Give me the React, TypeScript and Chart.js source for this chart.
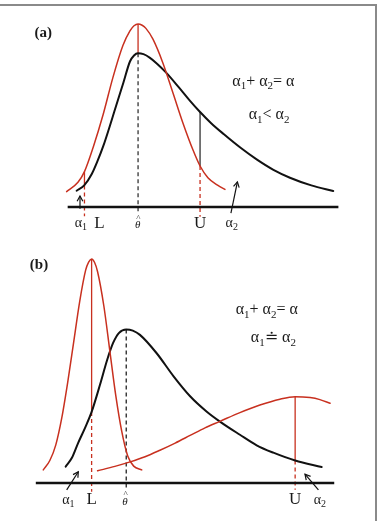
import React, { useEffect, useRef } from "react";
import { Chart, registerables } from "chart.js";
Chart.register(...registerables);

const RED = "#c8301f";
const BLACK = "#111111";
const SERIF = '"Liberation Serif", "Times New Roman", "DejaVu Serif", serif';

// ---------- Panel (a) ----------
const A_RED_X = [-0.04, 0.38, 0.62, 0.94, 1.31, 1.67, 2.04, 2.3, 2.45, 2.6, 2.75, 2.89, 3.15, 3.52, 3.89, 4.26, 4.63, 4.89, 5.18, 5.55, 5.81];
const A_RED_Y = [0.084, 0.135, 0.193, 0.325, 0.505, 0.707, 0.882, 0.962, 0.99, 1.0, 0.993, 0.976, 0.917, 0.786, 0.623, 0.458, 0.311, 0.224, 0.16, 0.118, 0.096];
const A_BLACK_X = [0.33, 0.61, 0.89, 1.1, 1.32, 1.52, 1.72, 1.9, 2.06, 2.3, 2.45, 2.6, 2.8, 3.04, 3.3, 3.62, 4.1, 4.52, 4.89, 5.3, 5.75, 6.4, 6.98, 7.6, 8.21, 9.0, 9.81];
const A_BLACK_Y = [0.089, 0.118, 0.18, 0.25, 0.335, 0.425, 0.52, 0.605, 0.68, 0.795, 0.828, 0.84, 0.835, 0.815, 0.783, 0.737, 0.655, 0.58, 0.519, 0.458, 0.4, 0.322, 0.26, 0.203, 0.16, 0.118, 0.087];
// guides at L, theta-hat, U
const A_GUIDE_X = [0.62, 2.6, 4.89];
const A_GUIDE_TOP = [0.193, 1.0, 0.519];
const A_GUIDE_MID = [0.118, 0.84, 0.224];
const A_GUIDE_BOTTOM = [-0.05, -0.035, -0.053];
const A_TICK_X = [0.49, 1.17, 2.59, 4.89, 6.06];
const A_TICK_TEXT = ["α_1", "L", "θ\u0302", "U", "α_2"];
const A_TICK_Y = -0.09;
const A_ARROW_FROM = [[0.455, -0.01], [6.03, -0.033]];
const A_ARROW_TO = [[0.455, 0.06], [6.27, 0.137]];
const A_NOTES = ["α_1+ α_2= α", "α_1< α_2"];
const A_NOTE_X = [7.23, 7.44];
const A_NOTE_Y = [0.685, 0.503];
const A_TITLE = "(a)";
const A_TITLE_POS = [-0.9, 0.951];

// ---------- Panel (b) ----------
const B_RED1_X = [0.25, 0.47, 0.67, 0.87, 1.07, 1.27, 1.47, 1.67, 1.77, 1.87, 1.97, 2.07, 2.28, 2.48, 2.68, 2.88, 3.08, 3.28, 3.55];
const B_RED1_Y = [0.058, 0.1, 0.17, 0.29, 0.45, 0.63, 0.81, 0.95, 0.986, 1.0, 0.984, 0.943, 0.79, 0.59, 0.39, 0.23, 0.12, 0.075, 0.058];
const B_BLACK_X = [1.0, 1.21, 1.42, 1.65, 1.87, 2.15, 2.39, 2.59, 2.79, 3.03, 3.25, 3.49, 4.05, 4.61, 5.17, 5.73, 6.17, 6.84, 7.4, 7.96, 8.69, 9.58];
const B_BLACK_Y = [0.073, 0.112, 0.179, 0.246, 0.317, 0.438, 0.549, 0.625, 0.67, 0.685, 0.68, 0.661, 0.579, 0.477, 0.387, 0.318, 0.274, 0.215, 0.168, 0.135, 0.1, 0.071];
const B_RED2_X = [2.07, 2.65, 3.16, 3.66, 4.16, 4.67, 5.17, 5.67, 6.17, 6.84, 7.51, 8.18, 8.69, 9.19, 9.52, 9.86];
const B_RED2_Y = [0.054, 0.074, 0.094, 0.117, 0.146, 0.178, 0.212, 0.246, 0.275, 0.314, 0.348, 0.374, 0.385, 0.381, 0.372, 0.356];
const B_GUIDE_X = [1.87, 3.03, 8.69];
const B_GUIDE_TOP = [1.0, 0.685, 0.385];
const B_GUIDE_MID = [0.317, 0.685, 0.1];
const B_GUIDE_BOTTOM = [-0.039, -0.03, -0.03];
const B_TICK_X = [1.09, 1.87, 2.99, 8.69, 9.52];
const B_TICK_TEXT = ["α_1", "L", "θ\u0302", "U", "α_2"];
const B_TICK_Y = -0.076;
const B_ARROW_FROM = [[1.035, -0.031], [9.47, -0.031]];
const B_ARROW_TO = [[1.424, 0.05], [9.02, 0.039]];
const B_NOTES = ["α_1+ α_2= α", "α_1≐ α_2"];
const B_NOTE_X = [7.74, 7.96];
const B_NOTE_Y = [0.772, 0.646];
const B_TITLE = "(b)";
const B_TITLE_POS = [0.107, 0.973];

const AXIS_X = [0, 10];

function curve(xs: number[], ys: number[], color: string, width: number) {
  return {
    data: xs.map((x, i) => ({ x, y: ys[i] })),
    borderColor: color,
    borderWidth: width,
    showLine: true,
    pointRadius: 0,
    cubicInterpolationMode: "monotone",
    borderCapStyle: "round",
    borderJoinStyle: "round",
    fill: false,
  };
}

function seg(x0: number, y0: number, x1: number, y1: number, color: string, width: number, dash?: number[]) {
  return {
    data: [{ x: x0, y: y0 }, { x: x1, y: y1 }],
    borderColor: color,
    borderWidth: width,
    showLine: true,
    pointRadius: 0,
    borderDash: dash || [],
    fill: false,
  };
}

function drawRich(ctx: CanvasRenderingContext2D, text: string, cx: number, cy: number, size: number, style = "") {
  const parts: { t: string; sub: boolean }[] = [];
  const re = /_(.)/g;
  let last = 0;
  let m: RegExpExecArray | null;
  while ((m = re.exec(text))) {
    if (m.index > last) parts.push({ t: text.slice(last, m.index), sub: false });
    parts.push({ t: m[1], sub: true });
    last = m.index + m[0].length;
  }
  if (last < text.length) parts.push({ t: text.slice(last), sub: false });
  const subSize = Math.round(size * 0.68);
  const fontFor = (sub: boolean) => `${style} ${sub ? subSize : size}px ${SERIF}`;
  let total = 0;
  for (const p of parts) {
    ctx.font = fontFor(p.sub);
    total += ctx.measureText(p.t).width;
  }
  let x = cx - total / 2;
  ctx.textAlign = "left";
  ctx.textBaseline = "middle";
  for (const p of parts) {
    ctx.font = fontFor(p.sub);
    ctx.fillText(p.t, x, p.sub ? cy + size * 0.3 : cy);
    x += ctx.measureText(p.t).width;
  }
}

function drawHat(ctx: CanvasRenderingContext2D, text: string, cx: number, cy: number, size: number) {
  const base = text.replace("\u0302", "");
  ctx.textAlign = "center";
  ctx.textBaseline = "middle";
  ctx.font = `italic ${size}px ${SERIF}`;
  ctx.fillText(base, cx, cy + 2);
  ctx.font = `${size - 2}px ${SERIF}`;
  ctx.fillText("^", cx + 0.5, cy - size * 0.45);
}

type Panel = {
  xMin: number; xMax: number; yMin: number; yMax: number;
  datasets: any[];
  arrowsFrom: number[][]; arrowsTo: number[][];
  ticksX: number[]; ticksText: string[]; tickY: number;
  notes: string[]; notesX: number[]; notesY: number[];
  title: string; titlePos: number[];
};

function guides(gx: number[], top: number[], mid: number[], bottom: number[], solidColors: string[], dashColors: string[]) {
  const out: any[] = [];
  gx.forEach((x, i) => {
    if (top[i] !== mid[i]) out.push(seg(x, top[i], x, mid[i], solidColors[i], 1.3));
    out.push(seg(x, mid[i], x, bottom[i], dashColors[i], 1.3, [4, 3]));
  });
  return out;
}

function arrowShafts(from: number[][], to: number[][]) {
  return from.map((f, i) => seg(f[0], f[1], to[i][0], to[i][1], BLACK, 1.2));
}

const panelA: Panel = {
  xMin: -2.5, xMax: 11.5, yMin: -0.235, yMax: 1.131,
  datasets: [
    seg(AXIS_X[0], 0, AXIS_X[1], 0, BLACK, 2.5),
    curve(A_RED_X, A_RED_Y, RED, 1.5),
    curve(A_BLACK_X, A_BLACK_Y, BLACK, 2),
    ...guides(A_GUIDE_X, A_GUIDE_TOP, A_GUIDE_MID, A_GUIDE_BOTTOM, [RED, RED, "#333"], [RED, "#333", RED]),
    ...arrowShafts(A_ARROW_FROM, A_ARROW_TO),
  ],
  arrowsFrom: A_ARROW_FROM, arrowsTo: A_ARROW_TO,
  ticksX: A_TICK_X, ticksText: A_TICK_TEXT, tickY: A_TICK_Y,
  notes: A_NOTES, notesX: A_NOTE_X, notesY: A_NOTE_Y,
  title: A_TITLE, titlePos: A_TITLE_POS,
};

const panelB: Panel = {
  xMin: -1.2, xMax: 11.5, yMin: -0.17, yMax: 1.04,
  datasets: [
    seg(AXIS_X[0], 0, AXIS_X[1], 0, BLACK, 2.5),
    curve(B_RED1_X, B_RED1_Y, RED, 1.5),
    curve(B_RED2_X, B_RED2_Y, RED, 1.5),
    curve(B_BLACK_X, B_BLACK_Y, BLACK, 2),
    ...guides(B_GUIDE_X, B_GUIDE_TOP, B_GUIDE_MID, B_GUIDE_BOTTOM, [RED, BLACK, RED], [RED, "#222", RED]),
    ...arrowShafts(B_ARROW_FROM, B_ARROW_TO),
  ],
  arrowsFrom: B_ARROW_FROM, arrowsTo: B_ARROW_TO,
  ticksX: B_TICK_X, ticksText: B_TICK_TEXT, tickY: B_TICK_Y,
  notes: B_NOTES, notesX: B_NOTE_X, notesY: B_NOTE_Y,
  title: B_TITLE, titlePos: B_TITLE_POS,
};

function overlay(p: Panel) {
  return {
    id: "overlay",
    afterDatasetsDraw(chart: any) {
      const ctx: CanvasRenderingContext2D = chart.ctx;
      const sx = chart.scales.x;
      const sy = chart.scales.y;
      ctx.save();
      // arrow heads
      ctx.strokeStyle = BLACK;
      ctx.lineWidth = 1.2;
      p.arrowsTo.forEach((t, i) => {
        const f = p.arrowsFrom[i];
        const x1 = sx.getPixelForValue(t[0]);
        const y1 = sy.getPixelForValue(t[1]);
        const x0 = sx.getPixelForValue(f[0]);
        const y0 = sy.getPixelForValue(f[1]);
        const ang = Math.atan2(y1 - y0, x1 - x0);
        const len = 6;
        ctx.beginPath();
        ctx.moveTo(x1 - len * Math.cos(ang - 0.5), y1 - len * Math.sin(ang - 0.5));
        ctx.lineTo(x1, y1);
        ctx.lineTo(x1 - len * Math.cos(ang + 0.5), y1 - len * Math.sin(ang + 0.5));
        ctx.stroke();
      });
      ctx.fillStyle = "#1a1a1a";
      // tick labels
      p.ticksX.forEach((x, i) => {
        const t = p.ticksText[i];
        const px = sx.getPixelForValue(x);
        const py = sy.getPixelForValue(p.tickY);
        if (t === "L" || t === "U") drawRich(ctx, t, px, py, 17);
        else if (t.includes("\u0302")) drawHat(ctx, t, px, py, 11);
        else drawRich(ctx, t, px, py, 14);
      });
      // notes
      p.notes.forEach((t, i) => {
        drawRich(ctx, t, sx.getPixelForValue(p.notesX[i]), sy.getPixelForValue(p.notesY[i]), 16);
      });
      // title
      drawRich(ctx, p.title, sx.getPixelForValue(p.titlePos[0]), sy.getPixelForValue(p.titlePos[1]), 15, "bold");
      ctx.restore();
    },
  };
}

function config(p: Panel): any {
  return {
    type: "scatter",
    data: { datasets: p.datasets },
    options: {
      responsive: false,
      animation: false,
      devicePixelRatio: 1,
      layout: { padding: 0 },
      events: [],
      plugins: { legend: { display: false }, tooltip: { enabled: false } },
      scales: {
        x: { type: "linear", min: p.xMin, max: p.xMax, display: false },
        y: { type: "linear", min: p.yMin, max: p.yMax, display: false },
      },
    },
    plugins: [overlay(p)],
  };
}

export default function App() {
  const refA = useRef<HTMLCanvasElement>(null);
  const refB = useRef<HTMLCanvasElement>(null);
  useEffect(() => {
    const ca = new Chart(refA.current as HTMLCanvasElement, config(panelA));
    const cb = new Chart(refB.current as HTMLCanvasElement, config(panelB));
    return () => {
      ca.destroy();
      cb.destroy();
    };
  }, []);
  return (
    <div style={{ position: "absolute", left: 0, top: 0, width: 379, height: 521, overflow: "hidden", background: "#fff" }}>
      <canvas ref={refA} width={379} height={250} style={{ position: "absolute", left: 0, top: 0, display: "block" }} />
      <canvas ref={refB} width={379} height={271} style={{ position: "absolute", left: 0, top: 250, display: "block" }} />
      <div
        style={{
          position: "absolute", left: -10, top: 4, width: 387, height: 600,
          border: "2px solid #8a8a8a", boxSizing: "border-box", pointerEvents: "none",
        }}
      />
    </div>
  );
}
